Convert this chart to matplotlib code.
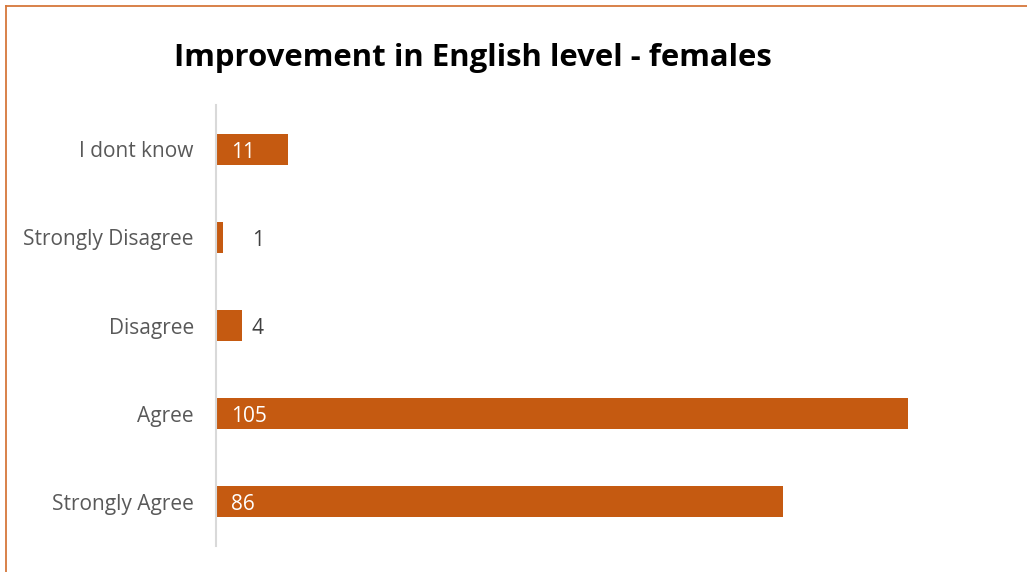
import matplotlib
matplotlib.use("Agg")
import matplotlib.pyplot as plt

categories = ["Strongly Agree", "Agree", "Disagree", "Strongly Disagree", "I dont know"]
counts = [86, 105, 4, 1, 11]
title = "Improvement in English level - females"

BAR = "#C55A11"
FONT = "Open Sans"

fig = plt.figure(figsize=(10.27, 5.72), dpi=100)
ax = fig.add_axes([216 / 1027, 1 - 546 / 572, 800 / 1027, 441 / 572])

ypos = list(range(len(categories)))
ax.barh(ypos, counts, height=0.35, color=BAR)
ax.set_ylim(-0.5, len(categories) - 0.5)
ax.set_xlim(0, 800 / 6.59)
ax.set_yticks(ypos)
ax.set_yticklabels(categories, fontsize=15, color="#595959", family=FONT)
ax.tick_params(axis="y", length=0, pad=16)
ax.set_xticks([])
for s in ["top", "right", "bottom"]:
    ax.spines[s].set_visible(False)
ax.spines["left"].set_color("#D9D9D9")
ax.spines["left"].set_linewidth(1.5)

for y, v in zip(ypos, counts):
    if v >= 10:
        ax.annotate(str(v), (0, y), xytext=(15, -3), textcoords="offset pixels",
                    va="center", ha="left", color="white", fontsize=15, family=FONT)
    else:
        ax.annotate(str(v), (0, y), xytext=(36, -3), textcoords="offset pixels",
                    va="center", ha="left", color="#404040", fontsize=15, family=FONT)

fig.text(473 / 1027, 1 - 58 / 572, title, ha="center", va="center",
         fontsize=22.4, fontweight="bold", family=FONT)

# chart frame (only left and top edges visible in the crop)
fig.add_artist(plt.Line2D([5.5 / 1027, 5.5 / 1027], [0, 1 - 5.5 / 572],
                          transform=fig.transFigure, color="#D6773A", lw=1.3))
fig.add_artist(plt.Line2D([5.5 / 1027, 1], [1 - 5.5 / 572, 1 - 5.5 / 572],
                          transform=fig.transFigure, color="#D6773A", lw=1.3))

fig.savefig("out.png", dpi=100)
